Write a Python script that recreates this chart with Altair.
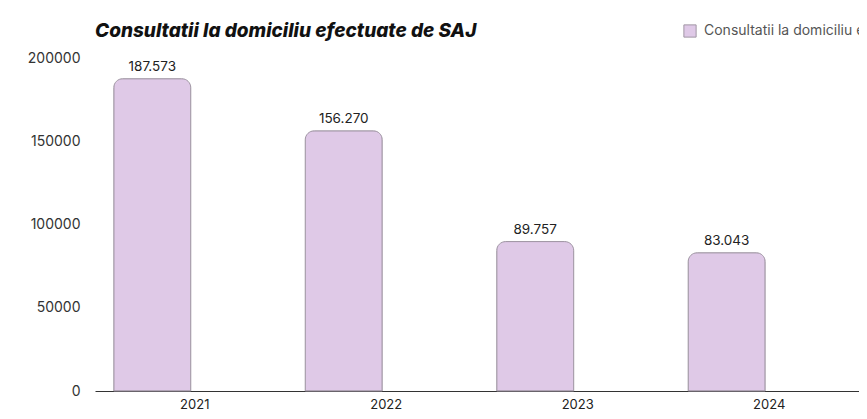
import altair as alt
import pandas as pd

years = [2021, 2022, 2023, 2024]
values = [187573, 156270, 89757, 83043]
series = "Consultatii la domiciliu efectuate de SAJ"

df = pd.DataFrame({"an": years, "valoare": values, "serie": [series] * len(years)})

FONT = "Inter"

x = alt.X(
    "an:Q",
    scale=alt.Scale(domain=[2020.727, 2024.665], nice=False, zero=False),
    axis=alt.Axis(
        values=years, format="d", title=None, grid=False, ticks=False,
        domain=True, domainColor="#333333", domainWidth=1,
        labelFont=FONT, labelFontSize=13, labelColor="#222222", labelPadding=7,
        labelFlush=False, labelOffset=42,
    ),
)
y = alt.Y(
    "valoare:Q",
    scale=alt.Scale(domain=[0, 200000], nice=False),
    axis=alt.Axis(
        values=[0, 50000, 100000, 150000, 200000], format="d", title=None,
        grid=False, ticks=False, domain=False,
        labelFont=FONT, labelFontSize=14, labelColor="#333333", labelPadding=15,
    ),
)

bars = alt.Chart(df).mark_bar(
    size=77, cornerRadiusTopLeft=9, cornerRadiusTopRight=9,
    stroke="#a096a4", strokeWidth=1,
).encode(
    x=x, y=y,
    color=alt.Color(
        "serie:N",
        scale=alt.Scale(range=["#dfc9e7"]),
        legend=alt.Legend(
            title=None, orient="none", legendX=588, legendY=-34,
            symbolType="square", symbolSize=150, symbolStrokeColor="#a096a4",
            symbolStrokeWidth=1, labelFont=FONT, labelFontSize=14,
            labelColor="#555555", labelLimit=500, labelOffset=7,
        ),
    ),
)

labels = alt.Chart(df).transform_calculate(
    eticheta="replace(format(datum.valoare, ','), /,/g, '.')"
).mark_text(
    baseline="bottom", dy=-5, font=FONT, fontSize=13.5, color="#222222"
).encode(x=x, y=y, text="eticheta:N")

chart = alt.layer(bars, labels).properties(
    width=764, height=333,
    autosize=alt.AutoSizeParams(type="none"),
    padding={"left": 87, "top": 50, "right": 0, "bottom": 20},
    title=alt.TitleParams(
        series, anchor="start", frame="group", font=FONT, fontSize=19,
        fontWeight=800, fontStyle="italic", color="#111111", offset=14, dy=31,
    ),
).configure_view(stroke=None)

chart.save("out.html", embed_options={"renderer": "svg", "actions": False})
